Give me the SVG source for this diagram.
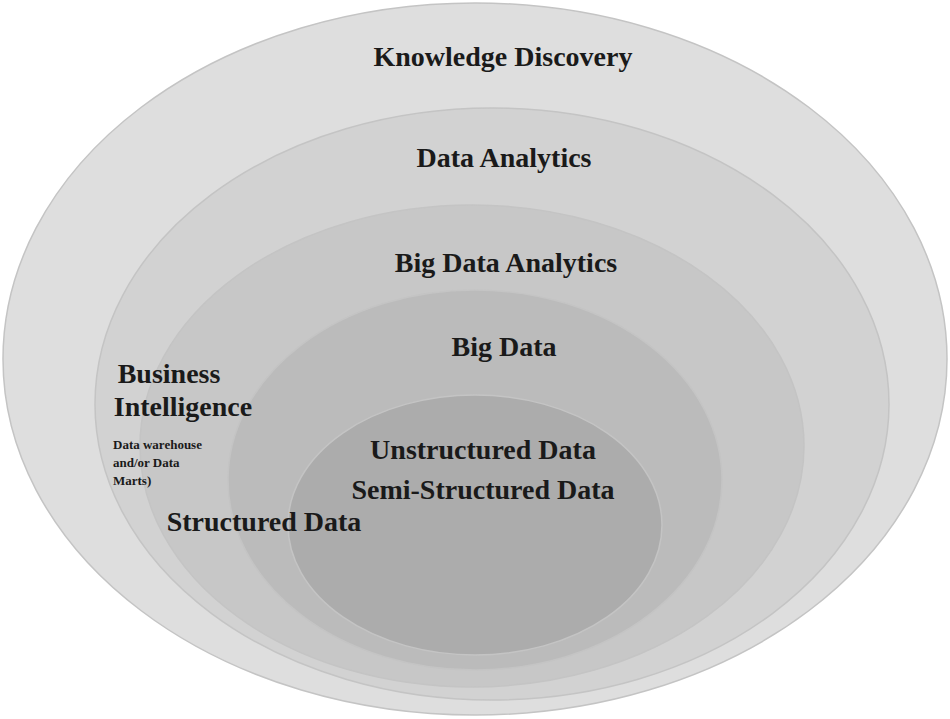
<svg xmlns="http://www.w3.org/2000/svg" width="950" height="719" viewBox="0 0 950 719">
<style>
.e{stroke:#c4c4c4;stroke-width:1.5}
.t{font-family:"Liberation Serif","DejaVu Serif",serif;font-weight:bold;fill:#1a1a1a;text-anchor:middle}
.b{font-size:28px}
.s{font-size:13px;text-anchor:start}
</style>
<rect width="950" height="719" fill="#fff"/>
<g id="knowledge-discovery"><ellipse class="e" cx="475" cy="359" rx="472" ry="356" fill="#dedede"/>
<text class="t b" x="503" y="66">Knowledge Discovery</text></g>
<g id="data-analytics"><ellipse class="e" cx="492" cy="404" rx="397" ry="296" fill="#d2d2d2"/>
<text class="t b" x="504" y="167">Data Analytics</text></g>
<g id="big-data-analytics"><ellipse class="e" cx="472" cy="446" rx="332" ry="241" fill="#c7c7c7"/>
<text class="t b" x="506" y="272">Big Data Analytics</text></g>
<g id="big-data"><ellipse class="e" cx="475" cy="480" rx="247" ry="190" fill="#bbbbbb"/>
<text class="t b" x="504" y="356">Big Data</text></g>
<g id="inner"><ellipse class="e" cx="475" cy="525" rx="187" ry="130" fill="#acacac"/>
<text class="t b" x="483" y="459">Unstructured Data</text>
<text class="t b" x="483" y="499">Semi-Structured Data</text></g>
<g id="business-intelligence">
<text class="t b" x="169" y="383">Business</text>
<text class="t b" x="183" y="416">Intelligence</text>
<text class="t s" x="113" y="449">Data warehouse</text>
<text class="t s" x="113" y="467">and/or Data</text>
<text class="t s" x="113" y="485">Marts)</text></g>
<g id="structured-data"><text class="t b" x="264" y="531">Structured Data</text></g>
<g id="connectors"/>
</svg>
